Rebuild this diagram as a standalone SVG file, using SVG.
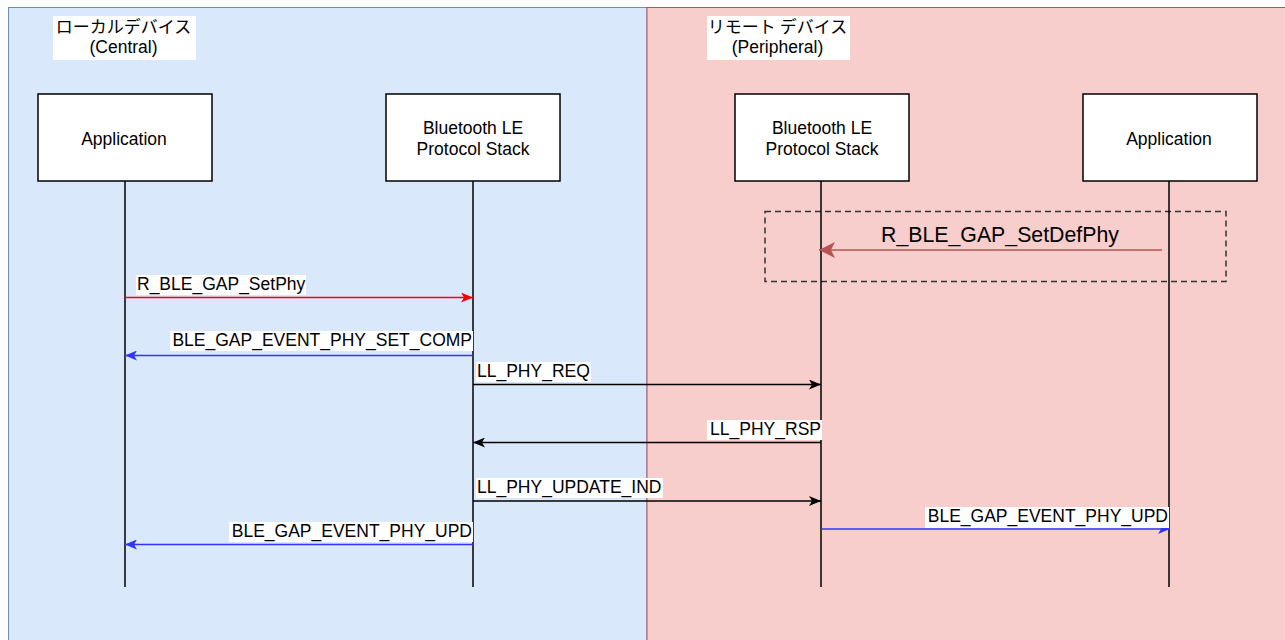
<svg xmlns="http://www.w3.org/2000/svg" width="1285" height="640" viewBox="0 0 1285 640">
<style>
text{font-family:"Liberation Sans",Arial,"Noto Sans CJK JP",sans-serif;font-size:17.5px;fill:#000}
.jp{font-family:"Noto Sans CJK JP","Liberation Sans",sans-serif;font-size:17px}
.box{fill:#fff;stroke:#000;stroke-width:1.5}
.life{stroke:#000;stroke-width:1.5;fill:none}
.lbl{fill:#fff}
.msg{fill:none;stroke-width:1.5}
</style>
<defs>
<marker id="aRed" viewBox="0 0 12 10" refX="12" refY="5" markerWidth="12" markerHeight="10" markerUnits="userSpaceOnUse" orient="auto"><path d="M0,0 L12,5 L0,10 L3,5 Z" fill="#ff0000"/></marker>
<marker id="aBlue" viewBox="0 0 12 10" refX="12" refY="5" markerWidth="12" markerHeight="10" markerUnits="userSpaceOnUse" orient="auto"><path d="M0,0 L12,5 L0,10 L3,5 Z" fill="#3333ff"/></marker>
<marker id="aBlack" viewBox="0 0 12 10" refX="12" refY="5" markerWidth="12" markerHeight="10" markerUnits="userSpaceOnUse" orient="auto"><path d="M0,0 L12,5 L0,10 L3,5 Z" fill="#000"/></marker>
<marker id="aDark" viewBox="0 0 16 16" refX="16" refY="8" markerWidth="16" markerHeight="16" markerUnits="userSpaceOnUse" orient="auto"><path d="M0,0 L16,8 L0,16 L4,8 Z" fill="#b85450"/></marker>
</defs>

<g id="panel-local">
<rect x="8.5" y="7.5" width="638.5" height="640" fill="#dae8fc" stroke="#6c8ebf" stroke-width="1"/>
<rect x="53" y="16" width="143" height="44" fill="#fff"/>
<text class="jp" x="123.5" y="33" text-anchor="middle">ローカルデバイス</text>
<text x="123.5" y="53" text-anchor="middle">(Central)</text>
</g>
<g id="panel-remote">
<rect x="647" y="7.5" width="645" height="640" fill="#f8cecc" stroke="#b85450" stroke-width="1"/>
<rect x="707" y="16" width="143" height="44" fill="#fff"/>
<text class="jp" x="777.5" y="33" text-anchor="middle">リモート デバイス</text>
<text x="777.5" y="53" text-anchor="middle">(Peripheral)</text>
</g>

<g id="group-setdefphy">
<rect x="765" y="211.5" width="461" height="70" fill="none" stroke="#333" stroke-width="1.5" stroke-dasharray="6,4"/>
</g>

<g id="node-app-local">
<rect class="box" x="38" y="94" width="174" height="87"/>
<line class="life" x1="125" y1="181" x2="125" y2="587"/>
<text x="124" y="145" text-anchor="middle">Application</text>
</g>
<g id="node-stack-local">
<rect class="box" x="386" y="94" width="174" height="87"/>
<line class="life" x1="473" y1="181" x2="473" y2="587"/>
<text x="473" y="134" text-anchor="middle">Bluetooth LE</text>
<text x="473" y="155" text-anchor="middle">Protocol Stack</text>
</g>
<g id="node-stack-remote">
<rect class="box" x="735" y="94" width="174" height="87"/>
<line class="life" x1="821" y1="181" x2="821" y2="587"/>
<text x="822" y="134" text-anchor="middle">Bluetooth LE</text>
<text x="822" y="155" text-anchor="middle">Protocol Stack</text>
</g>
<g id="node-app-remote">
<rect class="box" x="1083" y="94" width="174" height="87"/>
<line class="life" x1="1169" y1="181" x2="1169" y2="587"/>
<text x="1169" y="145" text-anchor="middle">Application</text>
</g>

<g id="connectors">
<line class="msg" x1="1162" y1="250" x2="819" y2="250" stroke="#b85450" stroke-width="2" marker-end="url(#aDark)"/>
<text x="1000" y="242" text-anchor="middle" style="font-size:21.3px">R_BLE_GAP_SetDefPhy</text>

<line class="msg" x1="125" y1="297.5" x2="473" y2="297.5" stroke="#ff0000" marker-end="url(#aRed)"/>
<rect class="lbl" x="136" y="275" width="170" height="20"/>
<text x="137" y="290">R_BLE_GAP_SetPhy</text>

<line class="msg" x1="473" y1="355.5" x2="125" y2="355.5" stroke="#3333ff" marker-end="url(#aBlue)"/>
<rect class="lbl" x="170" y="331" width="303" height="20"/>
<text x="472" y="346" text-anchor="end">BLE_GAP_EVENT_PHY_SET_COMP</text>

<line class="msg" x1="473" y1="384.5" x2="821" y2="384.5" stroke="#000" marker-end="url(#aBlack)"/>
<rect class="lbl" x="476" y="362" width="115" height="20"/>
<text x="477" y="377">LL_PHY_REQ</text>

<line class="msg" x1="821" y1="442.5" x2="473" y2="442.5" stroke="#000" marker-end="url(#aBlack)"/>
<rect class="lbl" x="707" y="420" width="115" height="20"/>
<text x="821" y="435" text-anchor="end">LL_PHY_RSP</text>

<line class="msg" x1="473" y1="501" x2="821" y2="501" stroke="#000" marker-end="url(#aBlack)"/>
<rect class="lbl" x="476" y="478" width="187" height="20"/>
<text x="477" y="493">LL_PHY_UPDATE_IND</text>

<line class="msg" x1="473" y1="544.5" x2="125" y2="544.5" stroke="#3333ff" marker-end="url(#aBlue)"/>
<rect class="lbl" x="229" y="522" width="244" height="20"/>
<text x="472" y="537" text-anchor="end">BLE_GAP_EVENT_PHY_UPD</text>

<line class="msg" x1="821" y1="529" x2="1170" y2="529" stroke="#3333ff" marker-end="url(#aBlue)"/>
<rect class="lbl" x="925" y="507" width="244" height="21"/>
<text x="1168" y="522" text-anchor="end">BLE_GAP_EVENT_PHY_UPD</text>
</g>
</svg>
